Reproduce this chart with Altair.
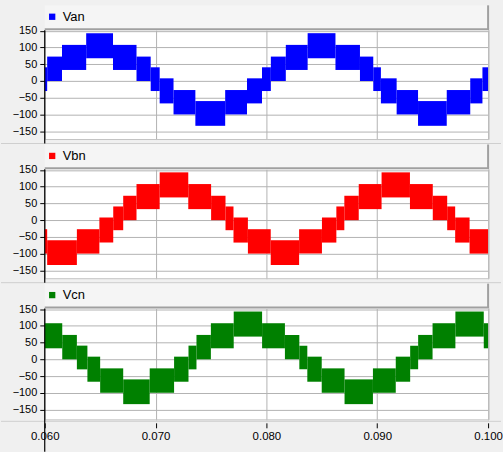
import altair as alt
import pandas as pd

# Axis ticks
TIME_TICKS = [0.060, 0.070, 0.080, 0.090, 0.100]
VOLT_TICKS = [-150, -100, -50, 0, 50, 100, 150]

# Phase voltage switching bands: each band spans edges[i]..edges[i+1]
# and the PWM output toggles between low[i] and high[i] inside it.
VAN_EDGES = [0.0600, 0.06022, 0.06156, 0.06374, 0.06616, 0.06828, 0.06956, 0.07037,
             0.07162, 0.07359, 0.07628, 0.07825, 0.07960, 0.08040, 0.08175, 0.08372,
             0.08623, 0.08844, 0.08964, 0.09033, 0.09175, 0.09368, 0.09627, 0.09839,
             0.09949, 0.1000]
VAN_LOW = [-30, 0, 33, 68, 33, 0, -30, -67, -100, -134, -100, -67, -30,
           0, 33, 68, 33, 0, -30, -67, -100, -134, -100, -67, -30]
VAN_HIGH = [41, 73, 108, 143, 108, 73, 41, 8, -27, -60, -27, 8, 41,
            73, 108, 143, 108, 73, 41, 8, -27, -60, -27, 8, 41]

VBN_EDGES = [0.0600, 0.06022, 0.06290, 0.06493, 0.06618, 0.06708, 0.06828, 0.07037,
             0.07295, 0.07501, 0.07631, 0.07703, 0.07833, 0.08039, 0.08295, 0.08501,
             0.08631, 0.08703, 0.08833, 0.09039, 0.09295, 0.09501, 0.09631, 0.09703,
             0.09833, 0.1000]
VBN_LOW = [-100, -134, -100, -67, -30, 0, 33, 68, 33, 0, -30, -67, -100,
           -134, -100, -67, -30, 0, 33, 68, 33, 0, -30, -67, -100]
VBN_HIGH = [-27, -60, -27, 8, 41, 73, 108, 143, 108, 73, 41, 8, -27,
            -60, -27, 8, 41, 73, 108, 143, 108, 73, 41, 8, -27]

VCN_EDGES = [0.0600, 0.06158, 0.06290, 0.06385, 0.06500, 0.06708, 0.06947, 0.07167,
             0.07297, 0.07369, 0.07499, 0.07705, 0.07961, 0.08167, 0.08297, 0.08369,
             0.08499, 0.08705, 0.08961, 0.09167, 0.09297, 0.09369, 0.09499, 0.09705,
             0.09961, 0.1000]
VCN_LOW = [33, 0, -30, -67, -100, -134, -100, -67, -30, 0, 33, 68, 33,
           0, -30, -67, -100, -134, -100, -67, -30, 0, 33, 68, 33]
VCN_HIGH = [108, 73, 41, 8, -27, -60, -27, 8, 41, 73, 108, 143, 108,
            73, 41, 8, -27, -60, -27, 8, 41, 73, 108, 143, 108]

PHASES = ["Van", "Vbn", "Vcn"]
COLORS = ["#0000ff", "#ff0000", "#008000"]

W = 446
FONT = "Liberation Sans"
GRID = "#b2b2b2"
FRAME_DARK = "#a0a0a0"
FRAME_LIGHT = "#c4c4c4"

one = pd.DataFrame({"k": [0]})


def deco_rule(color, width, **enc):
    return alt.Chart(one).mark_rule(color=color, strokeWidth=width).encode(**enc)


def panel(name, color, edges, low, high, height, ymin, bottom):
    df = pd.DataFrame({
        "t0": edges[:-1],
        "t1": edges[1:],
        "lo": low,
        "hi": high,
        "phase": [name] * len(low),
    })

    if bottom:
        x_axis = alt.Axis(values=TIME_TICKS, grid=True, format=".3f", title=None,
                          domain=False, ticks=True, tickSize=5, tickColor="black",
                          offset=3, labelFontSize=11.5, labelPadding=3,
                          labelFont=FONT, labelColor="black", labelFlush=False)
    else:
        x_axis = alt.Axis(values=TIME_TICKS, grid=True, labels=False, ticks=False,
                          domain=False, title=None)

    y_axis = alt.Axis(values=VOLT_TICKS, grid=True, domain=False, title=None,
                      tickSize=5, tickColor="black", labelFontSize=11,
                      labelPadding=3, labelFont=FONT, labelColor="black")

    xs = alt.Scale(domain=[0.060, 0.100], nice=False, zero=False)
    ys = alt.Scale(domain=[ymin, 152], nice=False, zero=False)

    header = alt.Chart(one).mark_rect(fill="#f5f5f5").encode(
        x=alt.value(0), x2=alt.value(W), y=alt.value(-25), y2=alt.value(0))

    bands = alt.Chart(df).mark_rect().encode(
        x=alt.X("t0:Q", scale=xs, axis=x_axis),
        x2="t1:Q",
        y=alt.Y("lo:Q", scale=ys, axis=y_axis),
        y2="hi:Q",
        color=alt.Color("phase:N",
                        scale=alt.Scale(domain=[name], range=[color]),
                        legend=alt.Legend(title=None, orient="none", legendX=1,
                                          legendY=-20, symbolType="square",
                                          symbolSize=40, symbolStrokeWidth=0,
                                          labelFontSize=13, labelFont=FONT,
                                          labelColor="black", labelOffset=4)),
    )

    sep_y = height + (1.5 if bottom else 4)
    line_end = 144 if bottom else height + 4

    layers = [
        header,
        bands,
        # separator running across the whole figure
        deco_rule("#cfcfcf", 1, x=alt.value(-44), x2=alt.value(459),
                  y=alt.value(sep_y)),
        # plot frame
        deco_rule(FRAME_LIGHT, 1, x=alt.value(0), x2=alt.value(W + 1),
                  y=alt.value(height)),
        deco_rule(FRAME_LIGHT, 1, x=alt.value(W + 1), y=alt.value(0),
                  y2=alt.value(height)),
        deco_rule(FRAME_DARK, 2, x=alt.value(0), x2=alt.value(W + 1),
                  y=alt.value(-1)),
        deco_rule(FRAME_DARK, 2, x=alt.value(W), y=alt.value(-25),
                  y2=alt.value(-1)),
        # left value axis line
        deco_rule("black", 1.2, x=alt.value(0), y=alt.value(0),
                  y2=alt.value(line_end)),
    ]
    return alt.layer(*layers).properties(width=W, height=height)


p1 = panel(PHASES[0], COLORS[0], VAN_EDGES, VAN_LOW, VAN_HIGH, 110, -175, False)
p2 = panel(PHASES[1], COLORS[1], VBN_EDGES, VBN_LOW, VBN_HIGH, 110, -175, False)
p3 = panel(PHASES[2], COLORS[2], VCN_EDGES, VCN_LOW, VCN_HIGH, 112, -181, True)

chart = (
    alt.vconcat(p1, p2, p3, spacing=30, bounds="flush")
    .resolve_scale(color="independent")
    .resolve_legend(color="independent")
    .properties(padding={"left": 0, "top": 3, "right": 0, "bottom": 0})
    .configure(background="#f0f0f0")
    .configure_view(fill="white", stroke=None)
    .configure_axis(gridColor=GRID, gridWidth=1, gridOpacity=1)
)

chart.save("out.html", embed_options={"renderer": "svg", "actions": False})
